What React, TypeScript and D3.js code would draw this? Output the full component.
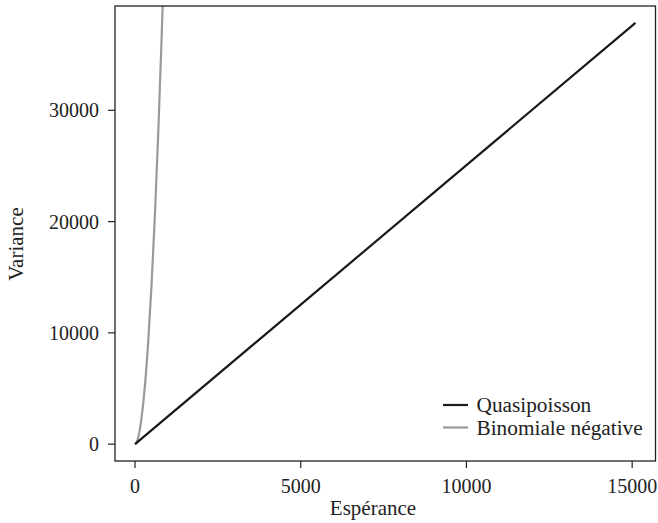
import * as d3 from 'd3';

// mean / variance pairs
const quasiMean = [0, 15100];
const quasiVar = [0, 37860];

const nbMean = [0, 25, 50, 100, 150, 200, 300, 400, 500, 600, 700, 800, 850];
const nbVar = [0, 60, 190, 650, 1400, 2450, 5300, 9300, 14400, 20600, 27900, 36300, 40900];

const xTicks = [0, 5000, 10000, 15000];
const yTicks = [0, 10000, 20000, 30000];

const legendLabels = ['Quasipoisson', 'Binomiale négative'];
const legendColors = ['#1a1a1a', '#9a9a9a'];

const W = 658;
const H = 523;
const FONT = '"Liberation Serif", "Times New Roman", serif';

export default function App() {
  const left = 115, right = 655.5, top = 6, bottom = 461;

  // R-style 4% padding around data range
  const xMax = d3.max(quasiMean) as number;
  const yMax = d3.max(quasiVar) as number;
  const x = d3.scaleLinear().domain([-0.04 * xMax, 1.04 * xMax]).range([left, right]);
  const y = d3.scaleLinear().domain([-0.04 * yMax, 1.04 * yMax]).range([bottom, top]);

  const line = d3.line<[number, number]>()
    .x(d => x(d[0]))
    .y(d => y(d[1]));

  const quasiPath = line(quasiMean.map((m, i) => [m, quasiVar[i]] as [number, number])) || '';
  const nbPath = line.curve(d3.curveMonotoneX)(nbMean.map((m, i) => [m, nbVar[i]] as [number, number])) || '';

  return (
    <svg width={W} height={H} style={{ position: 'absolute', left: 0, top: 0, background: '#fff' }} fontFamily={FONT}>
      <defs>
        <clipPath id="plotClip">
          <rect x={left} y={top} width={right - left} height={bottom - top} />
        </clipPath>
      </defs>

      <g clipPath="url(#plotClip)">
        <path d={nbPath} fill="none" stroke={legendColors[1]} strokeWidth={2.2} />
        <path d={quasiPath} fill="none" stroke={legendColors[0]} strokeWidth={2.2} />
      </g>

      <rect x={left} y={top} width={right - left} height={bottom - top} fill="none" stroke="#222" strokeWidth={1.3} />

      {/* x axis */}
      {xTicks.map(t => (
        <g key={'x' + t}>
          <line x1={x(t)} x2={x(t)} y1={bottom} y2={bottom + 7} stroke="#222" strokeWidth={1.2} />
          <text x={x(t)} y={493} textAnchor="middle" fontSize={20} fill="#222">{t}</text>
        </g>
      ))}
      <text x={373} y={515} textAnchor="middle" fontSize={21} fill="#222">Espérance</text>

      {/* y axis */}
      {yTicks.map(t => (
        <g key={'y' + t}>
          <line x1={left - 7} x2={left} y1={y(t)} y2={y(t)} stroke="#222" strokeWidth={1.2} />
          <text x={99} y={y(t)} dy="0.35em" textAnchor="end" fontSize={20} fill="#222">{t}</text>
        </g>
      ))}
      <text transform={`translate(23, 244) rotate(-90)`} textAnchor="middle" fontSize={21} fill="#222">Variance</text>

      {/* legend */}
      {legendLabels.map((lab, i) => (
        <g key={lab} transform={`translate(443, ${405 + i * 22.5})`}>
          <line x1={0} x2={25} y1={0} y2={0} stroke={legendColors[i]} strokeWidth={2.2} />
          <text x={33.5} y={0} dy="0.33em" fontSize={21.3} fill="#222">{lab}</text>
        </g>
      ))}
    </svg>
  );
}
